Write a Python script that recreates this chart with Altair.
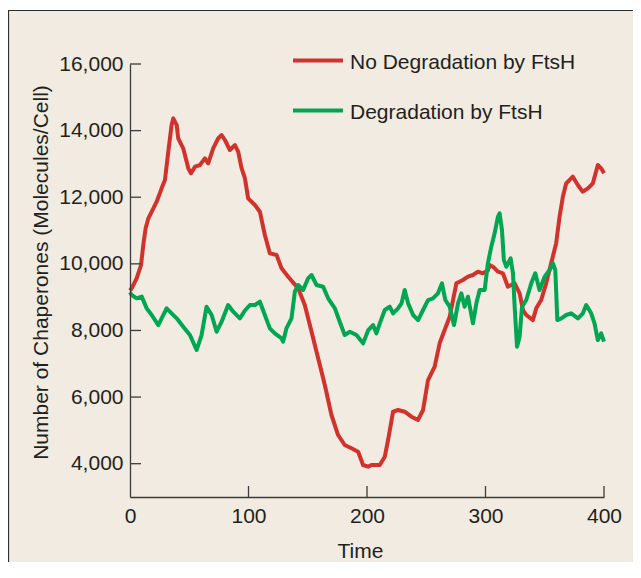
import altair as alt
import pandas as pd

# ---- data ----
t_red = [0, 1.4, 5.6, 9.3, 11.2, 13.2, 15.5, 19.7, 22.5, 26.7, 29.5, 32.3, 35.1, 36.5, 39.4,
         40.7, 44.9, 49.2, 51.4, 54.8, 59, 63.2, 66, 70.2, 74.4, 77.3, 80.1, 84.3, 88.5, 91.3,
         94.2, 97, 99.7, 105.4, 109.6, 113.8, 118, 123.7, 127.9, 133.5, 141.9, 147.5, 153.2,
         160.2, 164.4, 170, 175.6, 181.2, 186.9, 192.5, 196.7, 200.9, 203.7, 210.8, 215, 217.8,
         222, 226.2, 231.8, 237.5, 243, 247.3, 251.5, 257.1, 261.3, 265.5, 269.8, 272.6, 275.4,
         281, 285.2, 289.4, 293.6, 297.8, 302, 303.5, 306.3, 310.5, 314.7, 318.9, 324.6, 328.8,
         331.6, 334.4, 340, 342.8, 347, 351.2, 355.4, 359.6, 362.5, 365.3, 368.1, 373.7, 377.9,
         382.1, 386.4, 390.6, 394.8, 397.6, 400]
v_red = [9200, 9265, 9565, 9965, 10565, 11066, 11366, 11667, 11866, 12267, 12516, 13366, 14167,
         14368, 14167, 13768, 13468, 12867, 12717, 12917, 12967, 13167, 13017, 13468, 13768, 13868,
         13718, 13417, 13567, 13366, 12867, 12566, 11967, 11766, 11566, 10865, 10316, 10265, 9865,
         9614, 9265, 8764, 7962, 6963, 6362, 5462, 4861, 4561, 4462, 4360, 3961, 3910, 3961, 3961,
         4210, 4711, 5561, 5612, 5561, 5411, 5312, 5612, 6512, 6912, 7614, 8013, 8413, 8914, 9415,
         9514, 9614, 9665, 9764, 9715, 9800, 9965, 9915, 9764, 9715, 9314, 9415, 9115, 8614, 8464,
         8313, 8664, 8914, 9415, 10015, 10615, 11415, 12016, 12417, 12617, 12366, 12166, 12267,
         12417, 12967, 12867, 12717]

t_green = [0, 1.4, 5.6, 9.9, 14.1, 18.3, 23.9, 26.7, 30.9, 35.1, 39.4, 44.9, 50.6, 56.2, 60.4,
           64.6, 68.9, 73.1, 77.3, 82.8, 87.1, 92.7, 97, 101.2, 105.4, 109.6, 113.8, 118, 122.2,
           127.9, 129.2, 132, 136.3, 139.1, 141.9, 146.1, 150.3, 153.2, 157.4, 163, 167.2, 172.9,
           177, 181.2, 185.5, 191.1, 196.7, 200.9, 205.1, 207.9, 210.8, 215, 219.2, 222, 226.2,
           229.1, 231.8, 234.7, 238.9, 243.1, 247.3, 251.5, 255.7, 259.9, 263.3, 266.1, 269.8,
           273.4, 276.8, 279.6, 282.4, 285.2, 289.4, 292.3, 295.1, 299.3, 302, 304.9, 307.7, 310.5,
           311.9, 313.9, 315.5, 317.6, 321.2, 323.2, 324.6, 326.6, 328.8, 330.8, 334.4, 338.6, 342,
           345.6, 349.9, 354.1, 356.9, 358.9, 360.6, 364, 368.1, 372.3, 378, 382.2, 385, 389.2, 392,
           394.8, 397.6, 400]
v_green = [9150, 9065, 8965, 9015, 8664, 8464, 8163, 8364, 8664, 8514, 8364, 8113, 7862, 7413, 7862,
           8713, 8464, 7962, 8263, 8764, 8563, 8364, 8600, 8764, 8764, 8864, 8464, 8063, 7913, 7763,
           7662, 8063, 8364, 9164, 9365, 9215, 9565, 9665, 9365, 9314, 8965, 8664, 8263, 7862, 7962,
           7862, 7613, 8000, 8163, 7913, 8214, 8614, 8713, 8514, 8664, 8814, 9214, 8814, 8464, 8313,
           8614, 8914, 8965, 9115, 9415, 8914, 8713, 8163, 8814, 9115, 8713, 9014, 8214, 8814, 9214,
           9215, 10015, 10515, 10916, 11415, 11516, 11015, 10115, 9915, 10165, 9715, 8713, 7512, 7812,
           8713, 8914, 9415, 9715, 9214, 9614, 9815, 10015, 9815, 8313, 8364, 8464, 8514, 8364, 8514,
           8764, 8514, 8214, 7713, 7913, 7662]

series_names = ["No Degradation by FtsH", "Degradation by FtsH"]
series_colors = ["#d2322c", "#00a651"]
x_ticks = [0, 100, 200, 300, 400]
y_ticks = [4000, 6000, 8000, 10000, 12000, 14000, 16000]

df = pd.concat([
    pd.DataFrame({"t": t_red, "v": v_red, "s": series_names[0], "o": 0}),
    pd.DataFrame({"t": t_green, "v": v_green, "s": series_names[1], "o": 1}),
])

W, H = 474, 433
FONT = "Liberation Sans"
INK = "#231f20"
AXC = "#3c3c3c"

xs = alt.Scale(domain=[0, 400], nice=False, zero=False)
ys = alt.Scale(domain=[3000, 16000], nice=False, zero=False)

x_axis = alt.Axis(
    values=x_ticks, title="Time", ticks=False, tickSize=0, grid=False, zindex=1,
    labelFlush=False, labelExpr="format(datum.value, 'd')",
    labelFontSize=21, labelFont=FONT, labelColor=INK, labelPadding=8,
    domainColor=AXC, domainWidth=1.3,
    titleFontSize=21, titleFont=FONT, titleFontWeight="normal", titleColor=INK,
    titleX=230, titleY=60.6, titleAlign="center", titleBaseline="alphabetic")
y_axis = alt.Axis(
    values=y_ticks, title="Number of Chaperones (Molecules/Cell)",
    ticks=False, tickSize=0, grid=False, zindex=1,
    labelFlush=False, labelExpr="format(datum.value, ',d')",
    labelFontSize=21, labelFont=FONT, labelColor=INK, labelPadding=7,
    domainColor=AXC, domainWidth=1.3,
    titleFontSize=21, titleFont=FONT, titleFontWeight="normal", titleColor=INK,
    titleAngle=270, titleX=-89, titleY=208, titleAlign="center", titleBaseline="middle")

frame = alt.Chart(alt.Data(values=[{}])).mark_rect(
    fill="#f1ebe1", stroke="#2e2e2e", strokeWidth=1.2
).encode(x=alt.value(-121.5), x2=alt.value(700), y=alt.value(-53.5), y2=alt.value(700))

lines = alt.Chart(df).mark_line(strokeWidth=4, strokeJoin="round").encode(
    x=alt.X("t:Q", scale=xs, axis=x_axis),
    y=alt.Y("v:Q", scale=ys, axis=y_axis),
    color=alt.Color("s:N", scale=alt.Scale(domain=series_names, range=series_colors), legend=None),
    detail="s:N",
    order="o:Q",
)

ytick_df = pd.DataFrame({"v": y_ticks})
xtick_df = pd.DataFrame({"t": x_ticks[1:]})
yticks = alt.Chart(ytick_df).mark_rule(color=AXC, strokeWidth=1.3).encode(
    y=alt.Y("v:Q", scale=ys, axis=y_axis), x=alt.value(0), x2=alt.value(11))
xticks = alt.Chart(xtick_df).mark_rule(color=AXC, strokeWidth=1.3).encode(
    x=alt.X("t:Q", scale=xs, axis=x_axis), y=alt.value(H - 11), y2=alt.value(H))

one = alt.Data(values=[{}])
leg = []
for i, (name, col) in enumerate(zip(series_names, series_colors)):
    yy = -3.5 + i * 50
    leg.append(alt.Chart(one).mark_rule(color=col, strokeWidth=4).encode(
        x=alt.value(163), x2=alt.value(213), y=alt.value(yy)))
    leg.append(alt.Chart(one).mark_text(
        align="left", baseline="alphabetic", font=FONT, fontSize=21, color=INK
    ).encode(x=alt.value(220), y=alt.value(yy + 8.2), text=alt.value(name)))

chart = alt.layer(frame, lines, yticks, xticks, *leg).properties(
    width=W, height=H,
    autosize=alt.AutoSizeParams(type="none"),
    padding={"left": 122, "top": 56, "right": 29, "bottom": 65},
    background="white",
).configure_view(strokeWidth=0)

chart.save("out.html", embed_options={"renderer": "svg", "actions": False})
